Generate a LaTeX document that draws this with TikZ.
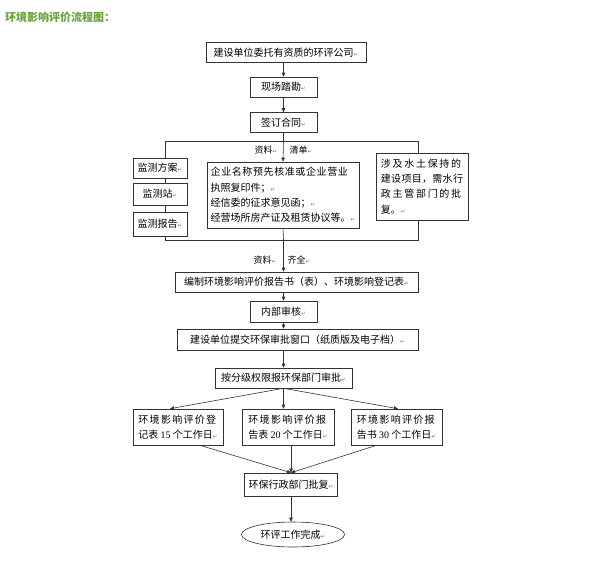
\documentclass[tikz,border=0pt]{standalone}
\usepackage{fontspec}
\setmainfont{Liberation Serif}
\newfontfamily\cjk{Noto Sans CJK SC}
\newfontfamily\dejavu{DejaVu Sans}
\definecolor{titlegreen}{RGB}{104,162,58}
\usetikzlibrary{arrows.meta, shapes.geometric, calc}
\newcommand\enter{{\dejavu\fontsize{5.5}{5.5}\selectfont\color{black!55}↵}}
\newcommand\spaced[2]{{\addfontfeature{LetterSpace=#1}#2}}

\begin{document}
\begin{tikzpicture}[x=1pt, y=-1pt,
  box/.style={draw=black!80, line width=0.6pt, fill=white, inner sep=0pt, font=\cjk\fontsize{10}{15.3}\selectfont},
  flow/.style={draw=black!80, line width=0.6pt, -{Triangle[length=4pt, width=3.5pt]}},
  link/.style={draw=black!80, line width=0.6pt},
  tag/.style={inner sep=0pt, font=\cjk\fontsize{9}{9}\selectfont}]
  \useasboundingbox (0,0) rectangle (592,568);
  \node[anchor=west, inner sep=0pt, text=titlegreen, font=\cjk\bfseries\fontsize{11}{11}\selectfont] (title) at (5,17) {环境影响评价流程图：};

  % contract stage
  \node[box, minimum width=160, minimum height=20] (entrust) at (286,52.5) {建设单位委托有资质的环评公司\enter};
  \node[box, minimum width=67, minimum height=20] (survey) at (283.5,87) {现场踏勘\enter};
  \node[box, minimum width=67, minimum height=20] (contract) at (283.5,122.5) {签订合同\enter};
  \draw[flow] (entrust.south -| survey) -- (survey.north);
  \draw[flow] (survey.south) -- (contract.north);

  % material frame
  \coordinate (split) at (283.5,141);
  \coordinate (merge) at (283.5,240);
  \coordinate (frametl) at (165,141);
  \coordinate (framebr) at (418,240);
  \draw[link] (contract.south) -- (split);
  \draw[link] (frametl) rectangle (framebr);
  \foreach \name/\y/\h/\txt in {plan/168/20/监测方案, station/194/22/监测站, record/224/24/监测报告}
    \node[box, minimum width=54, minimum height=\h] (\name) at (160,\y) {\txt\enter};
  \node[box, minimum width=152, minimum height=66, align=left] (docs) at (283,195)
    {\spaced{6}{企业名称预先核准或企业营业}\\执照复印件；\enter\\经信委的征求意见函；\enter\\经营场所房产证及租赁协议等。\enter};
  \node[box, minimum width=92, minimum height=67, align=left] (water) at (422,186.5)
    {\spaced{17}{涉及水土保持的}\\\spaced{3}{建设项目，需水行}\\\spaced{17}{政主管部门的批}\\复。\enter};
  \draw[flow] (split) -- (docs.north);
  \node[tag] (data1) at (266,150) {资料\enter};
  \node[tag] (list) at (301,150) {清单\enter};
  \draw[link] (docs.south) -- (merge);

  % report stage
  \node[box, minimum width=243, minimum height=20] (compile) at (296.5,282) {编制环境影响评价报告书（表）、环境影响登记表\enter};
  \node[box, minimum width=67, minimum height=21] (review) at (283.5,311.5) {内部审核\enter};
  \node[box, minimum width=241, minimum height=21] (submit) at (297.5,339.5) {建设单位提交环保审批窗口（纸质版及电子档）\enter};
  \node[box, minimum width=137, minimum height=20] (approve) at (283.5,378) {按分级权限报环保部门审批\enter};
  \draw[flow] (merge) -- (merge |- compile.north);
  \node[tag] (data2) at (265,260) {资料\enter};
  \node[tag] (complete) at (299,260) {齐全\enter};
  \draw[flow] (review.north |- compile.south) -- (review.north);
  \draw[flow] (review.south) -- (review.south |- submit.north);
  \draw[flow] (approve.north |- submit.south) -- (approve.north);

  % approval stage
  \node[box, minimum width=90, minimum height=36, align=left] (regbox) at (178,427)
    {\spaced{13}{环境影响评价登}\\记表 {\rmfamily 15} 个工作日\enter};
  \node[box, minimum width=92, minimum height=36, align=left] (formbox) at (288,427)
    {\spaced{13}{环境影响评价报}\\告表 {\rmfamily 20} 个工作日\enter};
  \node[box, minimum width=91, minimum height=36, align=left] (bookbox) at (396.5,427)
    {\spaced{13}{环境影响评价报}\\告书 {\rmfamily 30} 个工作日\enter};
  \draw[flow] (approve.south) -- ($(regbox.north)+(-8,0)$);
  \draw[flow] (approve.south) -- (approve.south |- formbox.north);
  \draw[flow] (approve.south) -- ($(bookbox.north)+(1.5,0)$);
  \node[box, minimum width=93, minimum height=23] (reply) at (291,484.5) {环保行政部门批复\enter};
  \draw[flow] ($(regbox.south)+(22,0)$) -- (reply.north);
  \draw[flow] (reply.north |- formbox.south) -- (reply.north);
  \draw[flow] ($(bookbox.south)+(-20,0)$) -- (reply.north);
  \node[box, ellipse, minimum width=103, minimum height=25] (done) at (293,534.5) {环评工作完成\enter};
  \draw[flow] (reply.south) -- (reply.south |- done.north);
\end{tikzpicture}
\end{document}
